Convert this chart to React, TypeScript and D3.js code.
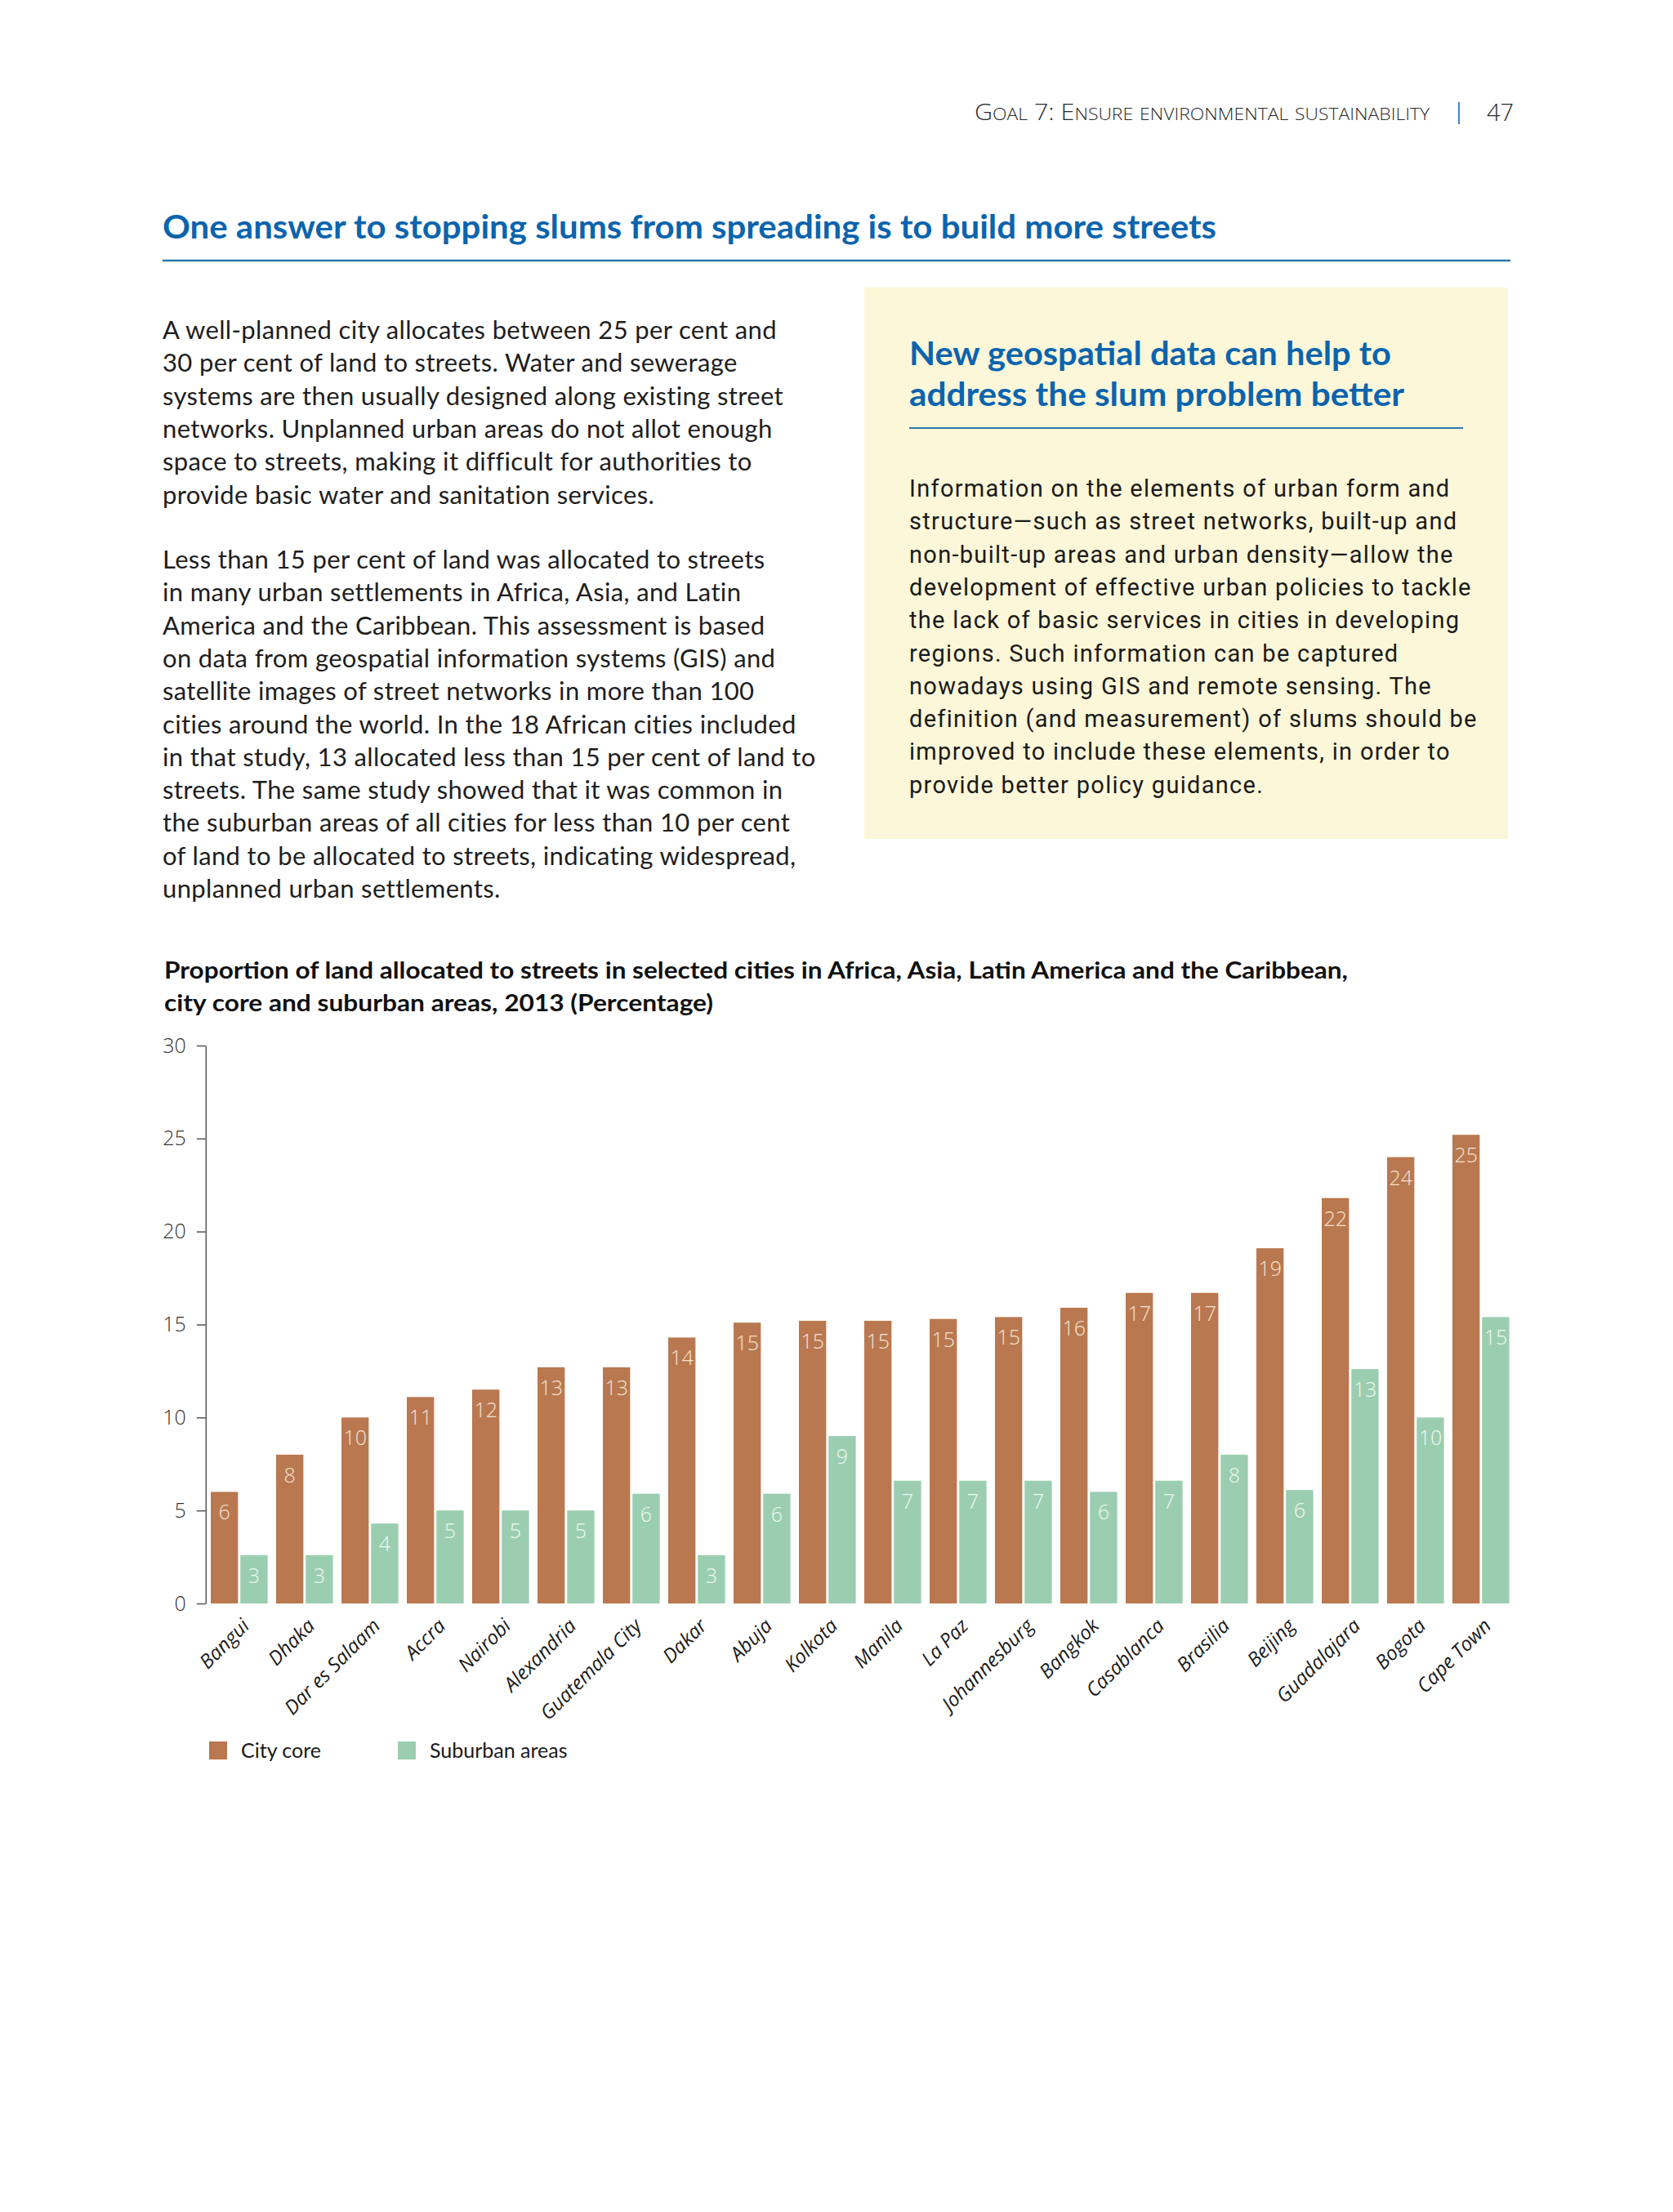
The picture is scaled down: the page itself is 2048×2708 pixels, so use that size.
import React, { useEffect, useRef } from 'react';
import * as d3 from 'd3';

// chart data
const cities = [
    'Bangui', 'Dhaka', 'Dar es Salaam', 'Accra', 'Nairobi', 'Alexandria', 'Guatemala City',
    'Dakar', 'Abuja', 'Kolkota', 'Manila', 'La Paz', 'Johannesburg', 'Bangkok',
    'Casablanca', 'Brasilia', 'Beijing', 'Guadalajara', 'Bogota', 'Cape Town',
];
const cityCore = [6.0, 8.0, 10.0, 11.1, 11.5, 12.7, 12.7, 14.3, 15.1, 15.2, 15.2, 15.3, 15.4, 15.9, 16.7, 16.7, 19.1, 21.8, 24.0, 25.2];
const suburban = [2.6, 2.6, 4.3, 5.0, 5.0, 5.0, 5.9, 2.6, 5.9, 9.0, 6.6, 6.6, 6.6, 6.0, 6.6, 8.0, 6.1, 12.6, 10.0, 15.4];
const coreLabels = ['6', '8', '10', '11', '12', '13', '13', '14', '15', '15', '15', '15', '15', '16', '17', '17', '19', '22', '24', '25'];
const suburbanLabels = ['3', '3', '4', '5', '5', '5', '6', '3', '6', '9', '7', '7', '7', '6', '7', '8', '6', '13', '10', '15'];
const yTicks = [0, 5, 10, 15, 20, 25, 30];
const seriesNames = ['City core', 'Suburban areas'];

// page text
const header = 'Goal 7: Ensure environmental sustainability';
const pageNumber = '47';
const mainTitle = 'One answer to stopping slums from spreading is to build more streets';
const para1 = [
    'A well-planned city allocates between 25 per cent and',
    '30 per cent of land to streets. Water and sewerage',
    'systems are then usually designed along existing street',
    'networks. Unplanned urban areas do not allot enough',
    'space to streets, making it difficult for authorities to',
    'provide basic water and sanitation services.',
];
const para2 = [
    'Less than 15 per cent of land was allocated to streets',
    'in many urban settlements in Africa, Asia, and Latin',
    'America and the Caribbean. This assessment is based',
    'on data from geospatial information systems (GIS) and',
    'satellite images of street networks in more than 100',
    'cities around the world. In the 18 African cities included',
    'in that study, 13 allocated less than 15 per cent of land to',
    'streets. The same study showed that it was common in',
    'the suburban areas of all cities for less than 10 per cent',
    'of land to be allocated to streets, indicating widespread,',
    'unplanned urban settlements.',
];
const boxTitle = ['New geospatial data can help to', 'address the slum problem better'];
const boxBody = [
    'Information on the elements of urban form and',
    'structure\u2014such as street networks, built-up and',
    'non-built-up areas and urban density\u2014allow the',
    'development of effective urban policies to tackle',
    'the lack of basic services in cities in developing',
    'regions. Such information can be captured',
    'nowadays using GIS and remote sensing. The',
    'definition (and measurement) of slums should be',
    'improved to include these elements, in order to',
    'provide better policy guidance.',
];
const chartTitle = [
    'Proportion of land allocated to streets in selected cities in Africa, Asia, Latin America and the Caribbean,',
    'city core and suburban areas, 2013 (Percentage)',
];

const BLUE = '#0b64ad';
const ORANGE = '#b9784f';
const GREEN = '#9bceb0';

const App: React.FC = () => {
    const ref = useRef<SVGSVGElement>(null);

    useEffect(() => {
        if (!ref.current) return;
        const svg = d3.select(ref.current);
        svg.selectAll('*').remove();

        svg.append('rect').attr('width', 2048).attr('height', 2708).attr('fill', '#ffffff');

        // running header in small caps
        const hd = svg.append('text')
            .attr('x', 1193).attr('y', 147)
            .attr('font-family', 'Open Sans, sans-serif')
            .attr('font-weight', 300)
            .attr('fill', '#2a2a2a')
            .attr('textLength', 557)
            .attr('lengthAdjust', 'spacingAndGlyphs');
        header.split('').forEach(ch => {
            const small = ch >= 'a' && ch <= 'z';
            hd.append('tspan')
                .attr('font-size', small ? 21 : 28)
                .text(ch.toUpperCase());
        });
        svg.append('line')
            .attr('x1', 1786).attr('x2', 1786).attr('y1', 125).attr('y2', 152)
            .attr('stroke', '#3d86c6').attr('stroke-width', 2);
        svg.append('text')
            .attr('x', 1820).attr('y', 148)
            .attr('font-family', 'Open Sans, sans-serif').attr('font-weight', 300)
            .attr('font-size', 29).attr('fill', '#2a2a2a')
            .text(pageNumber);

        // main title
        svg.append('text')
            .attr('x', 199).attr('y', 292)
            .attr('font-family', 'Lato, sans-serif').attr('font-weight', 700)
            .attr('font-size', 40).attr('fill', BLUE)
            .attr('textLength', 1290).attr('lengthAdjust', 'spacingAndGlyphs')
            .text(mainTitle);
        svg.append('line')
            .attr('x1', 199).attr('x2', 1849).attr('y1', 319).attr('y2', 319)
            .attr('stroke', '#2c78a8').attr('stroke-width', 2.5);

        // left column
        const body = svg.append('g')
            .attr('font-family', 'Lato, sans-serif')
            .attr('font-size', 31).attr('letter-spacing', 0.35).attr('fill', '#1e1e1e');
        para1.forEach((t, i) => {
            body.append('text').attr('x', 199).attr('y', 415 + i * 40.3).text(t);
        });
        para2.forEach((t, i) => {
            body.append('text').attr('x', 199).attr('y', 696 + i * 40.3).text(t);
        });

        // yellow box
        svg.append('rect')
            .attr('x', 1058).attr('y', 352).attr('width', 788).attr('height', 675)
            .attr('fill', '#fcf7d8');
        const bt = svg.append('g')
            .attr('font-family', 'Lato, sans-serif').attr('font-weight', 700)
            .attr('font-size', 40).attr('fill', BLUE);
        bt.append('text').attr('x', 1113).attr('y', 447)
            .attr('textLength', 590).attr('lengthAdjust', 'spacingAndGlyphs').text(boxTitle[0]);
        bt.append('text').attr('x', 1113).attr('y', 497)
            .attr('textLength', 606).attr('lengthAdjust', 'spacingAndGlyphs').text(boxTitle[1]);
        svg.append('line')
            .attr('x1', 1113).attr('x2', 1791).attr('y1', 524).attr('y2', 524)
            .attr('stroke', '#2c78a8').attr('stroke-width', 2);
        const bb = svg.append('g')
            .attr('font-family', 'Roboto, sans-serif')
            .attr('font-size', 29).attr('letter-spacing', 1.3).attr('fill', '#1a1a1a');
        boxBody.forEach((t, i) => {
            bb.append('text').attr('x', 1113).attr('y', 608 + i * 40.3).text(t);
        });

        // chart title
        const ct = svg.append('g')
            .attr('font-family', 'Lato, sans-serif').attr('font-weight', 700)
            .attr('font-size', 29).attr('fill', '#111');
        ct.append('text').attr('x', 201).attr('y', 1198)
            .attr('textLength', 1449).attr('lengthAdjust', 'spacingAndGlyphs').text(chartTitle[0]);
        ct.append('text').attr('x', 201).attr('y', 1238)
            .attr('textLength', 672).attr('lengthAdjust', 'spacingAndGlyphs').text(chartTitle[1]);

        // scales
        const y = d3.scaleLinear().domain([0, 30]).range([1963, 1280]);
        const x0 = d3.scaleBand<string>()
            .domain(cities)
            .range([252.8, 1852.8])
            .paddingInner(0.13)
            .paddingOuter(0.065);
        const x1 = d3.scaleBand<string>()
            .domain(['core', 'sub'])
            .range([0, x0.bandwidth()])
            .paddingInner(0.08);

        // y axis
        const ax = svg.append('g')
            .attr('transform', 'translate(251.8,0)')
            .call(d3.axisLeft(y).tickValues(yTicks).tickSize(11).tickSizeOuter(0).tickPadding(13));
        ax.select('.domain').attr('stroke', '#555').attr('stroke-width', 1.5);
        ax.selectAll('.tick line').attr('stroke', '#555').attr('stroke-width', 1.5);
        ax.selectAll('.tick text')
            .attr('font-family', 'Open Sans, sans-serif')
            .attr('font-weight', 300)
            .attr('font-size', 25)
            .attr('fill', '#333');

        // bars
        const groups = svg.append('g').selectAll('g')
            .data(cities)
            .enter().append('g')
            .attr('transform', d => `translate(${x0(d)},0)`);

        groups.append('rect')
            .attr('x', x1('core') || 0)
            .attr('width', x1.bandwidth())
            .attr('y', (_, i) => y(cityCore[i]))
            .attr('height', (_, i) => y(0) - y(cityCore[i]))
            .attr('fill', ORANGE);
        groups.append('rect')
            .attr('x', x1('sub') || 0)
            .attr('width', x1.bandwidth())
            .attr('y', (_, i) => y(suburban[i]))
            .attr('height', (_, i) => y(0) - y(suburban[i]))
            .attr('fill', GREEN);

        groups.append('text')
            .attr('x', (x1('core') || 0) + x1.bandwidth() / 2)
            .attr('y', (_, i) => y(cityCore[i]) + 34)
            .attr('text-anchor', 'middle')
            .attr('font-family', 'Open Sans, sans-serif').attr('font-weight', 300)
            .attr('font-size', 25).attr('fill', '#f4e4d6')
            .text((_, i) => coreLabels[i]);
        groups.append('text')
            .attr('x', (x1('sub') || 0) + x1.bandwidth() / 2)
            .attr('y', (_, i) => y(suburban[i]) + 34)
            .attr('text-anchor', 'middle')
            .attr('font-family', 'Open Sans, sans-serif').attr('font-weight', 300)
            .attr('font-size', 25).attr('fill', '#f0f8f3')
            .text((_, i) => suburbanLabels[i]);

        // rotated city labels
        svg.append('g').selectAll('text')
            .data(cities)
            .enter().append('text')
            .attr('transform', d => `translate(${(x0(d) || 0) + x0.bandwidth() / 2 + 14},1992) rotate(-45)`)
            .attr('text-anchor', 'end')
            .attr('font-family', 'Open Sans, sans-serif')
            .attr('font-style', 'italic')
            .attr('font-size', 24)
            .attr('fill', '#1a1a1a')
            .text(d => d);

        // legend
        const legendX = [256, 487];
        const leg = svg.append('g').selectAll('g')
            .data(seriesNames)
            .enter().append('g')
            .attr('transform', (_, i) => `translate(${legendX[i]},2132)`);
        leg.append('rect')
            .attr('width', 22).attr('height', 22)
            .attr('fill', (_, i) => (i === 0 ? ORANGE : GREEN));
        leg.append('text')
            .attr('x', 39).attr('y', 20)
            .attr('font-family', 'Lato, sans-serif')
            .attr('font-size', 25).attr('fill', '#1a1a1a')
            .text(d => d);
    }, []);

    return (
        <svg
            ref={ref}
            width={2048}
            height={2708}
            style={{ position: 'absolute', left: 0, top: 0, display: 'block' }}
        ></svg>
    );
};

export default App;
